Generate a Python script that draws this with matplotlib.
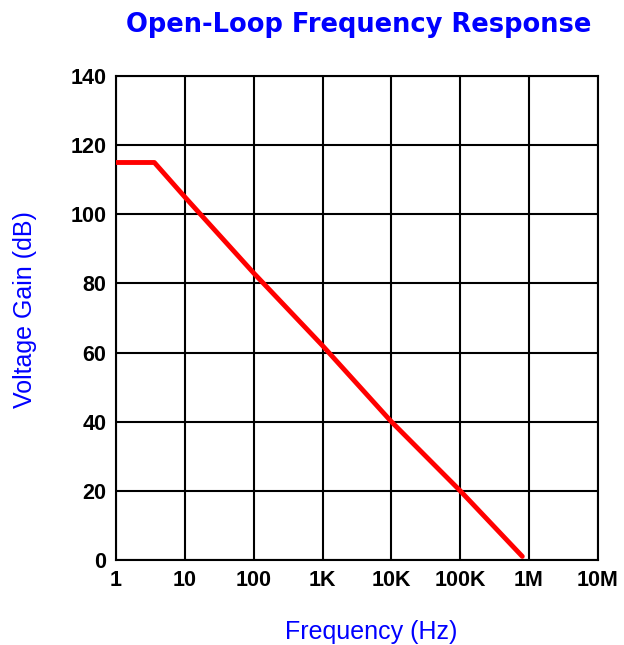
import numpy as np
import matplotlib.pyplot as plt

# open-loop gain of the op-amp
freq = [1, 3.6, 10, 100, 1e3, 1e4, 1e5, 8e5]
gain = [115, 115, 105, 83, 62, 40, 20, 1]

xticks = [1, 10, 100, 1e3, 1e4, 1e5, 1e6, 1e7]
xlabels = ["1", "10", "100", "1K", "10K", "100K", "1M", "10M"]
yticks = [0, 20, 40, 60, 80, 100, 120, 140]

plt.rcParams['font.family'] = ['Liberation Sans', 'DejaVu Sans']

fig = plt.figure(figsize=(6.24, 6.45), dpi=100)
ax = fig.add_axes([0.186, 0.132, 0.772, 0.750])

ax.plot(freq, gain, color="#ff0000", lw=3.5, solid_capstyle="round", zorder=3)

ax.set_xscale("log")
ax.set_xlim(1, 1e7)
ax.set_ylim(0, 140)
ax.set_xticks(xticks)
ax.set_xticklabels(xlabels)
ax.minorticks_off()
ax.set_yticks(yticks)
ax.grid(True, color="black", lw=1.5)
ax.tick_params(length=0, pad=7, labelsize=15.5)
for lab in ax.get_xticklabels() + ax.get_yticklabels():
    lab.set_fontweight("bold")
for s in ax.spines.values():
    s.set_linewidth(1.5)

fig.text(0.575, 0.962, "Open-Loop Frequency Response", color="#0000ff",
         fontsize=18.5, fontweight="bold", family="DejaVu Sans",
         ha="center", va="center")
fig.text(0.04, 0.52, "Voltage Gain (dB)", color="#0000ff", fontsize=18,
         rotation=90, ha="center", va="center")
fig.text(0.595, 0.02, "Frequency (Hz)", color="#0000ff", fontsize=18,
         ha="center", va="center")

fig.savefig("out.png", dpi=100)
